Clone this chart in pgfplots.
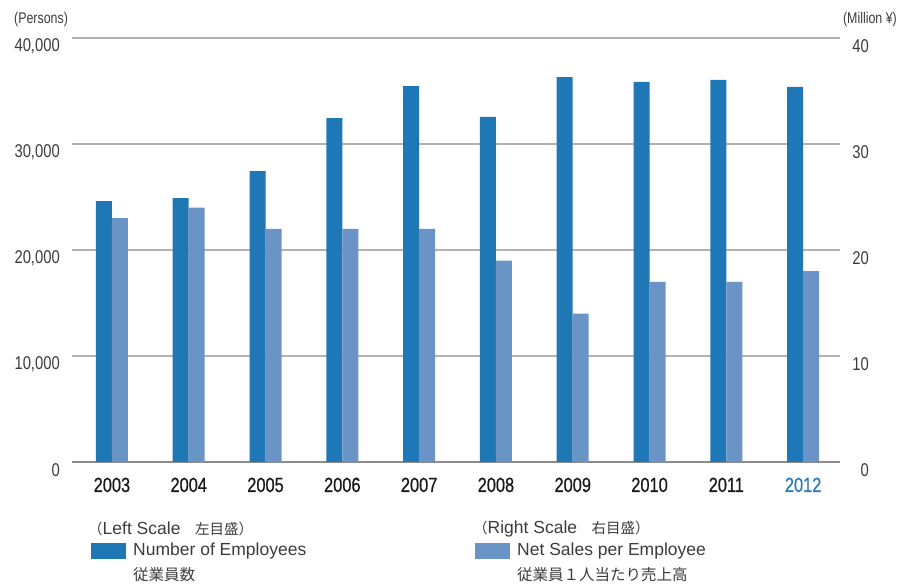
\documentclass[border=0pt]{standalone}
\usepackage{pgfplots}
\pgfplotsset{compat=1.18}
\usepackage{fontspec}
\setmainfont{Liberation Sans}
\newfontfamily\condfont[FakeStretch=0.8]{Liberation Sans}
\newfontfamily\yearfont[FakeStretch=0.8, FakeBold=0.6]{Liberation Sans}
\newfontfamily\cjk{Noto Sans CJK JP}
\definecolor{empblue}{RGB}{31,119,182}
\definecolor{salesblue}{RGB}{107,148,198}
\definecolor{yearblue}{RGB}{42,122,185}
\definecolor{gridgray}{RGB}{178,178,178}
\definecolor{basegray}{RGB}{140,140,140}
\definecolor{tickgray}{RGB}{60,60,60}

% idx: 0 = 2003 ... 9 = 2012
\pgfplotstableread{
idx employees sales
0 24600 23
1 24900 24
2 27450 22
3 32450 22
4 35450 22
5 32550 19
6 36300 14
7 35850 17
8 36050 17
9 35400 18
}\datatable

\pgfplotsset{
  common/.style={
    at={(72pt,122pt)}, anchor=south west,
    scale only axis, width=768pt, height=424pt,
    xmin=-0.52, xmax=9.48, ymin=0,
    major tick length=0pt,
    /pgf/number format/assume math mode=true,
    ybar, bar width=16pt,
  },
}

\begin{document}
\begin{tikzpicture}
\path[use as bounding box] (0,0) rectangle (900pt,584pt);

\begin{axis}[common,
  ymax=40000,
  axis x line*=bottom, axis y line*=left,
  y axis line style={draw=none},
  x axis line style={draw=basegray, line width=2pt},
  ymajorgrids, grid style={draw=gridgray, line width=1.2pt},
  ytick={0,10000,20000,30000,40000},
  scaled y ticks=false,
  /pgf/number format/1000 sep={,},
  yticklabel style={font=\condfont\fontsize{18.5}{18.5}\selectfont, text=tickgray,
    anchor=east, inner sep=0pt, xshift=-12pt, yshift=-8pt},
  xtick={0,...,9},
  xticklabels={2003,2004,2005,2006,2007,2008,2009,2010,2011,\textcolor{yearblue}{2012}},
  xticklabel style={font=\yearfont\fontsize{20.5}{20.5}\selectfont, text=black!90,
    anchor=base, inner sep=0pt, yshift=-30pt},
]
\addplot[fill=empblue, draw=none, bar shift=-8pt] table[x=idx, y=employees] {\datatable};
\end{axis}

\begin{axis}[common,
  ymax=40,
  axis x line=none, axis y line*=right,
  y axis line style={draw=none},
  ytick={0,10,20,30,40},
  yticklabel style={font=\condfont\fontsize{18.5}{18.5}\selectfont, text=tickgray,
    anchor=east, inner sep=0pt, xshift=29pt, yshift=-8pt},
]
\addplot[fill=salesblue, draw=none, bar shift=8pt] table[x=idx, y=sales] {\datatable};
\end{axis}

% axis unit labels
\node[anchor=west, inner sep=0pt, text=tickgray, font=\condfont\fontsize{15.5}{15.5}\selectfont]
  at (14pt,565pt) {(Persons)};
\node[anchor=east, inner sep=0pt, text=tickgray, font=\condfont\fontsize{15.5}{15.5}\selectfont]
  at (897pt,565pt) {(Million ¥)};

% legend
\begin{scope}[every node/.style={anchor=west, inner sep=0pt, text=tickgray,
    font=\fontsize{17.5}{17.5}\selectfont}]
  \node at (88pt,55pt) {{\cjk\fontsize{14.5}{14.5}\selectfont （}Left Scale{\cjk\fontsize{14.5}{14.5}\selectfont 　左目盛）}};
  \fill[empblue] (91pt,25pt) rectangle (126pt,41pt);
  \node at (133pt,33pt) {Number of Employees};
  \node at (133pt,9pt) {\cjk\fontsize{15.5}{15.5}\selectfont 従業員数};

  \node at (473pt,55pt) {{\cjk\fontsize{14.5}{14.5}\selectfont （}Right Scale{\cjk\fontsize{14.5}{14.5}\selectfont 　右目盛）}};
  \fill[salesblue] (475pt,25pt) rectangle (510pt,41pt);
  \node at (517pt,33pt) {Net Sales per Employee};
  \node at (517pt,9pt) {\cjk\fontsize{15.5}{15.5}\selectfont 従業員１人当たり売上高};
\end{scope}
\end{tikzpicture}
\end{document}
